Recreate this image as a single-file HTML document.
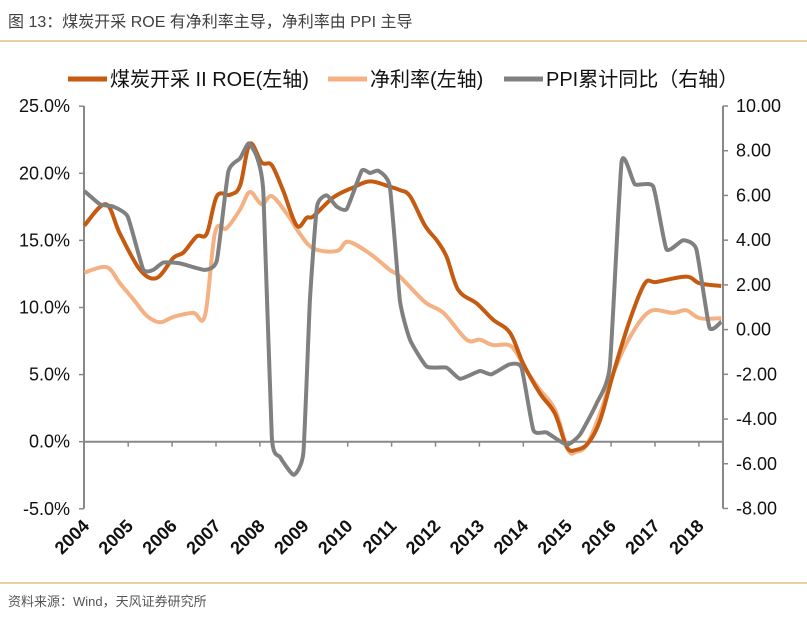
<!DOCTYPE html>
<html><head><meta charset="utf-8"><style>
html,body{margin:0;padding:0;background:#fff;}
body{width:807px;height:622px;overflow:hidden;font-family:"Liberation Sans","Noto Sans CJK SC",sans-serif;}
</style></head><body>
<svg id="chart" width="807" height="622" xmlns="http://www.w3.org/2000/svg">
<text x="8" y="27" font-size="16" fill="#404040" font-family="Liberation Sans, Noto Sans CJK SC, sans-serif">图 13：煤炭开采 ROE 有净利率主导，净利率由 PPI 主导</text>
<line x1="0" y1="41" x2="807" y2="41" stroke="#d9b56e" stroke-width="1.2"/>
<line x1="0" y1="583" x2="807" y2="583" stroke="#d9b56e" stroke-width="1.2"/>
<text x="8" y="606" font-size="13" fill="#555" font-family="Liberation Sans, Noto Sans CJK SC, sans-serif">资料来源：Wind，天风证券研究所</text>
<g font-size="20" fill="#111" font-family="Liberation Sans, Noto Sans CJK SC, sans-serif">
<line x1="68" y1="79" x2="107" y2="79" stroke="#c55a11" stroke-width="5"/>
<text x="110" y="86">煤炭开采 II ROE(左轴)</text>
<line x1="328" y1="79" x2="367" y2="79" stroke="#f4b183" stroke-width="5"/>
<text x="370" y="86">净利率(左轴)</text>
<line x1="504" y1="79" x2="543" y2="79" stroke="#808080" stroke-width="5"/>
<text x="546" y="86">PPI累计同比（右轴）</text>
</g>
<g id="axes"></g>
<g id="series"></g>
</svg>
<script>
const years=[2004,2005,2006,2007,2008,2009,2010,2011,2012,2013,2014,2015,2016,2017,2018];
const leftTicks=[25,20,15,10,5,0,-5];
const rightTicks=[10,8,6,4,2,0,-2,-4,-6,-8];
const roeT=[2004.0,2004.49,2004.81,2005.27,2005.65,2006.03,2006.26,2006.56,2006.79,2007.02,2007.32,2007.55,2007.77,2008.04,2008.27,2008.53,2008.84,2009.07,2009.22,2009.67,2010.13,2010.51,2010.96,2011.19,2011.42,2011.76,2012.03,2012.25,2012.52,2012.94,2013.31,2013.70,2014.0,2014.38,2014.72,2014.99,2015.21,2015.48,2015.75,2016.05,2016.43,2016.77,2017.03,2017.71,2018.02,2018.51];
const roeV=[16.1,17.7,15.5,12.8,12.2,13.7,14.1,15.3,15.5,18.3,18.4,19.1,22.2,20.8,20.6,18.7,16.1,16.7,16.8,18.2,18.95,19.4,19.0,18.75,18.3,16.1,15.0,13.8,11.3,10.3,9.1,8.1,5.8,3.6,2.1,-0.4,-0.6,-0.1,1.6,5.1,9.1,11.8,11.9,12.3,11.8,11.6];
const marT=[2004.0,2004.51,2004.81,2005.12,2005.42,2005.72,2006.03,2006.48,2006.75,2006.98,2007.24,2007.55,2007.77,2008.04,2008.27,2008.61,2008.91,2009.22,2009.75,2010.01,2010.51,2010.96,2011.19,2011.76,2012.18,2012.71,2013.01,2013.31,2013.73,2014.07,2014.38,2014.72,2015.02,2015.21,2015.44,2015.75,2016.05,2016.43,2016.88,2017.41,2017.71,2018.02,2018.51];
const marV=[12.6,13.0,11.8,10.6,9.4,8.9,9.3,9.6,9.4,15.6,15.9,17.3,18.6,17.7,18.3,17.0,15.5,14.4,14.2,14.9,14.0,12.8,12.3,10.4,9.6,7.6,7.6,7.2,7.1,5.3,3.85,2.4,-0.6,-0.75,-0.25,2.1,5.1,7.8,9.7,9.6,9.8,9.2,9.2];
const ppiT=[2004.0,2004.36,2004.66,2004.99,2005.34,2005.57,2005.80,2006.18,2006.75,2007.02,2007.28,2007.55,2007.74,2007.93,2008.08,2008.27,2008.46,2008.77,2008.99,2009.14,2009.30,2009.52,2009.75,2009.98,2010.32,2010.51,2010.70,2010.96,2011.19,2011.42,2011.80,2012.25,2012.56,2013.01,2013.27,2013.69,2013.96,2014.23,2014.53,2014.99,2015.29,2015.67,2015.97,2016.24,2016.54,2016.96,2017.26,2017.64,2017.94,2018.24,2018.51];
const ppiV=[6.2,5.6,5.5,5.05,2.7,2.67,3.0,2.96,2.67,3.1,7.06,7.66,8.33,7.73,6.1,-4.8,-5.7,-6.5,-5.5,1.3,5.5,6.0,5.5,5.4,7.1,7.0,7.1,6.4,1.3,-0.45,-1.65,-1.7,-2.2,-1.85,-2.0,-1.55,-1.7,-4.5,-4.6,-5.15,-4.7,-3.3,-1.65,7.5,6.5,6.4,3.6,4.0,3.6,0.1,0.35];

const NS='http://www.w3.org/2000/svg';
const X0=84.3, XS=43.9, YL0=441.7, YLS=13.42, YR0=329.6, YRS=22.36, AXL=84, AXR=723, TOP=106, BOT=508.5;
const xs=t=>X0+(t-2004)*XS;
const yL=v=>YL0-v*YLS;
const yR=v=>YR0-v*YRS;
function mk(tag,attrs,parent){const e=document.createElementNS(NS,tag);for(const k in attrs)e.setAttribute(k,attrs[k]);parent.appendChild(e);return e;}
const axes=document.getElementById('axes');
const ser=document.getElementById('series');
const AC='#888';
let e;
e=mk('line',{x1:AXL,y1:TOP,x2:AXL,y2:BOT,stroke:AC,'stroke-width':2},axes);


e=mk('line',{x1:AXR,y1:TOP,x2:AXR,y2:BOT,stroke:AC,'stroke-width':2},axes);


e=mk('line',{x1:AXL,y1:yL(0),x2:AXR,y2:yL(0),stroke:AC,'stroke-width':2},axes);


leftTicks.forEach(v=>{
  const y=yL(v);
  mk('line',{x1:AXL-5,y1:y,x2:AXL,y2:y,stroke:AC,'stroke-width':1.5},axes);
  const t=mk('text',{x:70,y:y+6,'text-anchor':'end','font-size':18,fill:'#111'},axes);
  t.textContent=v.toFixed(1)+'%';
  
  
});
rightTicks.forEach(v=>{
  const y=yR(v);
  mk('line',{x1:AXR,y1:y,x2:AXR+5,y2:y,stroke:AC,'stroke-width':1.5},axes);
  const t=mk('text',{x:736,y:y+6,'text-anchor':'start','font-size':18,fill:'#111'},axes);
  t.textContent=v.toFixed(2);
  
  
});
years.forEach((yr,i)=>{
  const x=xs(yr);
  if(i>0) mk('line',{x1:x,y1:yL(0),x2:x,y2:yL(0)+5,stroke:AC,'stroke-width':1.5},axes);
  const t=mk('text',{x:x+6,y:527,'text-anchor':'end','font-size':18,'font-weight':'bold',fill:'#111',transform:'rotate(-45 '+(x+6)+' 527)'},axes);
  t.textContent=yr;
  
  
});
function path(T,V,yf,k){
  const p=T.map((t,i)=>[xs(t),yf(V[i])]);
  let d='M'+p[0][0].toFixed(1)+','+p[0][1].toFixed(1);
  for(let i=0;i<p.length-1;i++){
    const p0=p[Math.max(0,i-1)],p1=p[i],p2=p[i+1],p3=p[Math.min(p.length-1,i+2)];
    const c1=[p1[0]+(p2[0]-p0[0])/k,p1[1]+(p2[1]-p0[1])/k];
    const c2=[p2[0]-(p3[0]-p1[0])/k,p2[1]-(p3[1]-p1[1])/k];
    d+='C'+c1[0].toFixed(1)+','+c1[1].toFixed(1)+' '+c2[0].toFixed(1)+','+c2[1].toFixed(1)+' '+p2[0].toFixed(1)+','+p2[1].toFixed(1);
  }
  return d;
}
e=mk('path',{d:path(marT,marV,yL,6),fill:'none',stroke:'#f4b183','stroke-width':4,'stroke-linejoin':'round'},ser);


e=mk('path',{d:path(roeT,roeV,yL,6),fill:'none',stroke:'#c55a11','stroke-width':4,'stroke-linejoin':'round'},ser);


e=mk('path',{d:path(ppiT,ppiV,yR,12),fill:'none',stroke:'#808080','stroke-width':4,'stroke-linejoin':'round'},ser);


</script>
</body></html>
